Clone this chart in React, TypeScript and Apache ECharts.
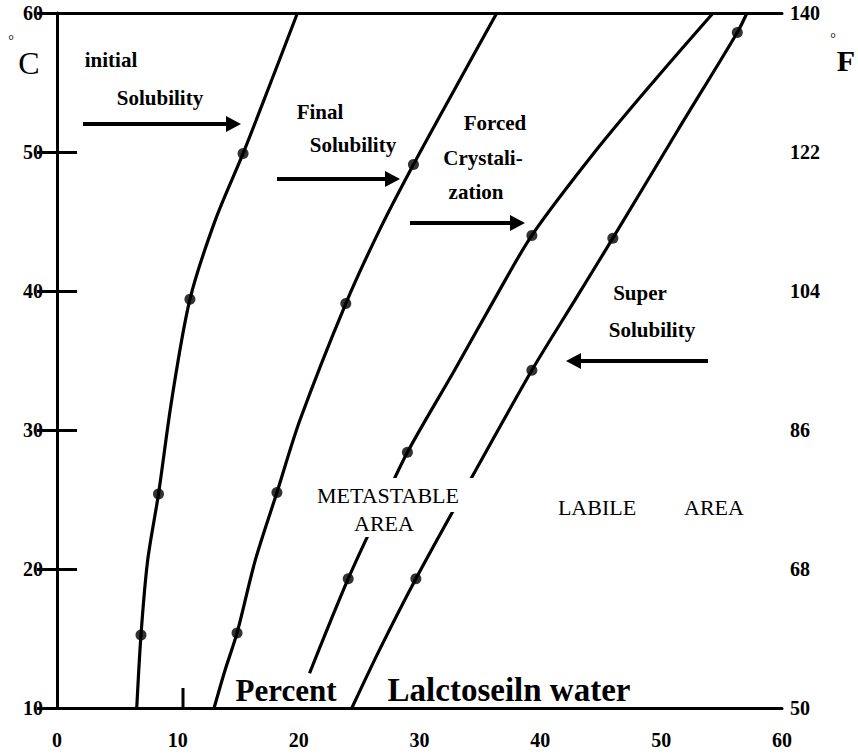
import React, { useEffect, useRef } from "react";
import * as echarts from "echarts";

// Percent lactose in water (x) vs temperature °C (y)
const xTicks = [0, 10, 20, 30, 40, 50, 60];
const celsiusTicks = [10, 20, 30, 40, 50, 60];
const fahrenheitTicks = [50, 68, 86, 104, 122, 140];

const initialSolubility: number[][] = [
  [6.6, 10], [6.95, 15.25], [7.5, 20.6], [8.4, 25.4], [9.5, 32.2], [11.0, 39.4],
  [13.1, 45.1], [15.4, 49.9], [17.6, 54.8], [19.9, 60],
];
const initialDots: number[][] = [[6.95, 15.25], [8.4, 25.4], [11.0, 39.4], [15.4, 49.9]];

const finalSolubility: number[][] = [
  [13.0, 10], [13.9, 12.7], [14.9, 15.4], [16.4, 20.6], [18.2, 25.5], [20.1, 30.7],
  [23.9, 39.1], [26.7, 44.4], [29.5, 49.1], [32.9, 54.5], [36.4, 60],
];
const finalDots: number[][] = [[14.9, 15.4], [18.2, 25.5], [23.9, 39.1], [29.5, 49.1]];

const forcedCrystallization: number[][] = [
  [20.9, 12.5], [24.1, 19.3], [26.7, 24.2], [29.0, 28.4], [32.9, 34.3], [36.2, 39.4],
  [39.3, 44.0], [44.6, 50.1], [49.5, 55.2], [54.3, 60],
];
const forcedDots: number[][] = [[24.1, 19.3], [29.0, 28.4], [39.3, 44.0]];

const superSolubility: number[][] = [
  [24.4, 10], [26.7, 14.2], [29.7, 19.3], [34.2, 26.4], [39.3, 34.3], [42.9, 39.4],
  [46.0, 43.8], [51.4, 51.6], [56.3, 58.6], [57.1, 60],
];
const superDots: number[][] = [[29.7, 19.3], [39.3, 34.3], [46.0, 43.8], [56.3, 58.6]];

const SERIF = "'Liberation Serif', 'DejaVu Serif', serif";

function txt(text: string, x: number, y: number, size: number, align = "center", weight = "bold") {
  return {
    type: "text",
    x,
    y,
    z: 60,
    style: {
      text,
      font: `${weight} ${size}px ${SERIF}`,
      fill: "#000",
      align,
      verticalAlign: "middle",
    },
  };
}

function arrow(x1: number, x2: number, y: number) {
  const dir = x2 > x1 ? 1 : -1;
  const headLen = 15;
  const tip = x2;
  const base = x2 - dir * headLen;
  return [
    {
      type: "line",
      z: 60,
      shape: { x1, y1: y, x2: base + dir * 2, y2: y },
      style: { stroke: "#000", lineWidth: 4 },
    },
    {
      type: "polygon",
      z: 60,
      shape: { points: [[base, y - 8], [tip, y], [base, y + 8]] },
      style: { fill: "#000" },
    },
  ];
}

export default function App() {
  const ref = useRef<HTMLDivElement>(null);
  useEffect(() => {
    if (!ref.current) return;
    const chart = echarts.init(ref.current, null, { renderer: "svg" });
    const lineSeries = (name: string, data: number[][]) => ({
      name,
      type: "line",
      data,
      smooth: 0.3,
      showSymbol: false,
      symbol: "none",
      lineStyle: { color: "#000", width: 3.2 },
      z: 3,
    });
    const dotSeries = (name: string, data: number[][]) => ({
      name,
      type: "scatter",
      data,
      symbol: "circle",
      symbolSize: 11,
      itemStyle: { color: "#000" },
      z: 4,
    });
    const labelStyle = {
      color: "#000",
      fontFamily: SERIF,
      fontWeight: "bold",
      fontSize: 20,
    };
    chart.setOption({
      animation: false,
      backgroundColor: "#fff",
      grid: { left: 57, right: 76, top: 13, bottom: 48, containLabel: false },
      xAxis: [
        {
          type: "value",
          position: "bottom",
          min: xTicks[0],
          max: xTicks[xTicks.length - 1],
          interval: 10,
          axisLine: { show: true, lineStyle: { color: "#000", width: 3 } },
          axisTick: { show: false },
          splitLine: { show: false },
          axisLabel: { ...labelStyle, margin: 22 },
        },
        {
          type: "value",
          position: "top",
          min: 0,
          max: 60,
          axisLine: { show: true, lineStyle: { color: "#000", width: 3 } },
          axisTick: { show: false },
          splitLine: { show: false },
          axisLabel: { show: false },
        },
      ],
      yAxis: [
        {
          type: "value",
          position: "left",
          min: celsiusTicks[0],
          max: celsiusTicks[celsiusTicks.length - 1],
          interval: 10,
          axisLine: { show: true, lineStyle: { color: "#000", width: 3 } },
          axisTick: { show: true, inside: true, length: 20, lineStyle: { color: "#000", width: 3 } },
          splitLine: { show: false },
          axisLabel: { ...labelStyle, margin: 14 },
        },
        {
          type: "value",
          position: "right",
          min: fahrenheitTicks[0],
          max: fahrenheitTicks[fahrenheitTicks.length - 1],
          interval: 18,
          axisLine: { show: true, lineStyle: { color: "#000", width: 2 } },
          axisTick: { show: true, inside: true, length: 20, lineStyle: { color: "#000", width: 3 } },
          splitLine: { show: false },
          axisLabel: { ...labelStyle, margin: 8 },
        },
      ],
      series: [
        lineSeries("Initial Solubility", initialSolubility),
        lineSeries("Final Solubility", finalSolubility),
        lineSeries("Forced Crystalization", forcedCrystallization),
        lineSeries("Super Solubility", superSolubility),
        dotSeries("Initial dots", initialDots),
        dotSeries("Final dots", finalDots),
        dotSeries("Forced dots", forcedDots),
        dotSeries("Super dots", superDots),
      ],
      graphic: [
        // degree unit labels
        txt("°", 11, 40, 14, "center", "normal"),
        txt("C", 29, 63, 32, "center", "normal"),
        txt("°", 833, 38, 14, "center", "normal"),
        txt("F", 846, 60, 30, "center", "bold"),
        // single inner tick on bottom axis
        {
          type: "line",
          z: 60,
          shape: { x1: 183, y1: 688, x2: 183, y2: 708 },
          style: { stroke: "#000", lineWidth: 3 },
        },
        // annotations
        txt("initial", 111, 60, 21),
        txt("Solubility", 160, 98, 21),
        ...arrow(83, 241, 124),
        txt("Final", 320, 112, 21),
        txt("Solubility", 353, 145, 21),
        ...arrow(277, 400, 179),
        txt("Forced", 495, 123, 21),
        txt("Crystali-", 483, 158, 21),
        txt("zation", 476, 192, 21),
        ...arrow(410, 525, 223),
        txt("Super", 640, 293, 21),
        txt("Solubility", 652, 330, 21),
        ...arrow(708, 566, 361),
        // white masks behind area labels
        {
          type: "rect",
          z: 50,
          shape: { x: 297, y: 478, width: 186, height: 34 },
          style: { fill: "#fff" },
        },
        {
          type: "rect",
          z: 50,
          shape: { x: 343, y: 512, width: 82, height: 25 },
          style: { fill: "#fff" },
        },
        txt("METASTABLE", 388, 495, 22, "center", "normal"),
        txt("AREA", 384, 523, 22, "center", "normal"),
        txt("LABILE", 597, 507, 22, "center", "normal"),
        txt("AREA", 714, 507, 22, "center", "normal"),
        txt("Percent", 286, 690, 31),
        txt("Lalctoseiln water", 509, 690, 33),
      ],
    });
    return () => chart.dispose();
  }, []);
  return (
    <div
      ref={ref}
      style={{ position: "absolute", left: 0, top: 0, width: 858, height: 756, background: "#fff" }}
    />
  );
}
